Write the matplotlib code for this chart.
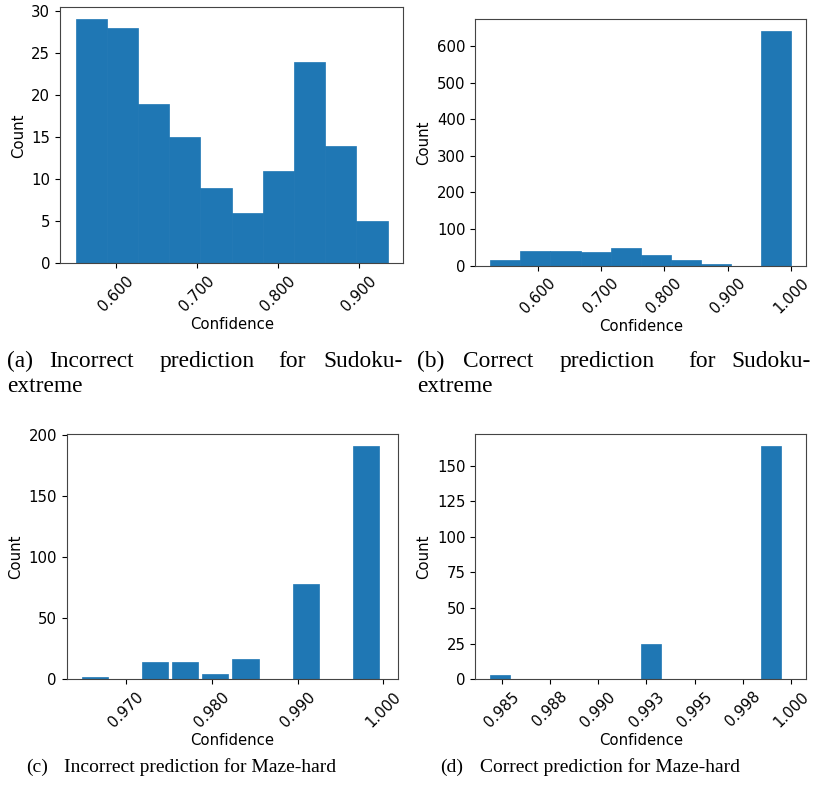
import numpy as np
import matplotlib
matplotlib.use('Agg')
import matplotlib.pyplot as plt
from matplotlib.ticker import FormatStrFormatter, MultipleLocator

plt.rcParams['font.family'] = ['DejaVu Sans']

# histogram data (10 bins each)
a_range = (0.550, 0.935)
a_counts = [29, 28, 19, 15, 9, 6, 11, 24, 14, 5]
b_range = (0.525, 1.000)
b_counts = [15, 40, 40, 37, 48, 29, 15, 4, 0, 641]
c_range = (0.9648, 1.000)
c_counts = [2, 0, 14, 14, 4, 17, 0, 78, 0, 191]
d_range = (0.9844, 1.000)
d_counts = [3, 0, 0, 0, 0, 25, 0, 0, 0, 164]

W, H = 817, 790
fig = plt.figure(figsize=(W / 100, H / 100), dpi=100)
FS = 10.7

def add_axes(left, top, right, bottom):
    return fig.add_axes([left / W, 1 - bottom / H, (right - left) / W, (bottom - top) / H])

def draw_hist(ax, rng, counts, fill, step):
    lo, hi = rng
    edges = np.linspace(lo, hi, len(counts) + 1)
    bw = edges[1] - edges[0]
    ax.bar(edges[:-1], counts, width=bw * fill, align='edge', color='#1f77b4',
           edgecolor='#1f77b4', linewidth=0.5)
    span = hi - lo
    ax.set_xlim(lo - 0.05 * span, hi + 0.05 * span)
    ax.xaxis.set_major_locator(MultipleLocator(step))
    ax.xaxis.set_major_formatter(FormatStrFormatter('%.3f'))
    ax.tick_params(axis='x', labelrotation=45, labelsize=FS)
    ax.tick_params(axis='y', labelsize=FS)
    ax.set_xlabel('Confidence', fontsize=FS, labelpad=2)
    ax.set_ylabel('Count', fontsize=FS)
    for s in ax.spines.values():
        s.set_color('#444444')

ax1 = add_axes(60, 7.3, 403.3, 263.3)
draw_hist(ax1, a_range, a_counts, 1.0, 0.1)
ax2 = add_axes(475.3, 19.3, 806, 265.7)
draw_hist(ax2, b_range, b_counts, 1.0, 0.1)
ax3 = add_axes(66.7, 434, 398.3, 679.3)
draw_hist(ax3, c_range, c_counts, 0.867, 0.01)
ax4 = add_axes(475.3, 434, 806, 679.3)
draw_hist(ax4, d_range, d_counts, 0.667, 0.0025)

# captions (justified lines placed word by word)
def words(xs, ws, y, size, last_right=False):
    for i, (x, w) in enumerate(zip(xs, ws)):
        ha = 'right' if (last_right and i == len(ws) - 1) else 'left'
        fig.text(x / W, 1 - y / H, w, family='Liberation Serif', fontsize=size,
                 va='baseline', ha=ha)

TOP = 16.8
words([7, 49, 160, 278, 403], ['(a)', 'Incorrect', 'prediction', 'for', 'Sudoku-'], 367, TOP, True)
words([7], ['extreme'], 392, TOP)
words([417, 463, 560, 688, 811], ['(b)', 'Correct', 'prediction', 'for', 'Sudoku-'], 367, TOP, True)
words([417], ['extreme'], 392, TOP)
words([26, 64], ['(c)', 'Incorrect prediction for Maze-hard'], 772, 14.0)
words([440, 480], ['(d)', 'Correct prediction for Maze-hard'], 772, 14.0)

fig.savefig('out.png', dpi=100)
